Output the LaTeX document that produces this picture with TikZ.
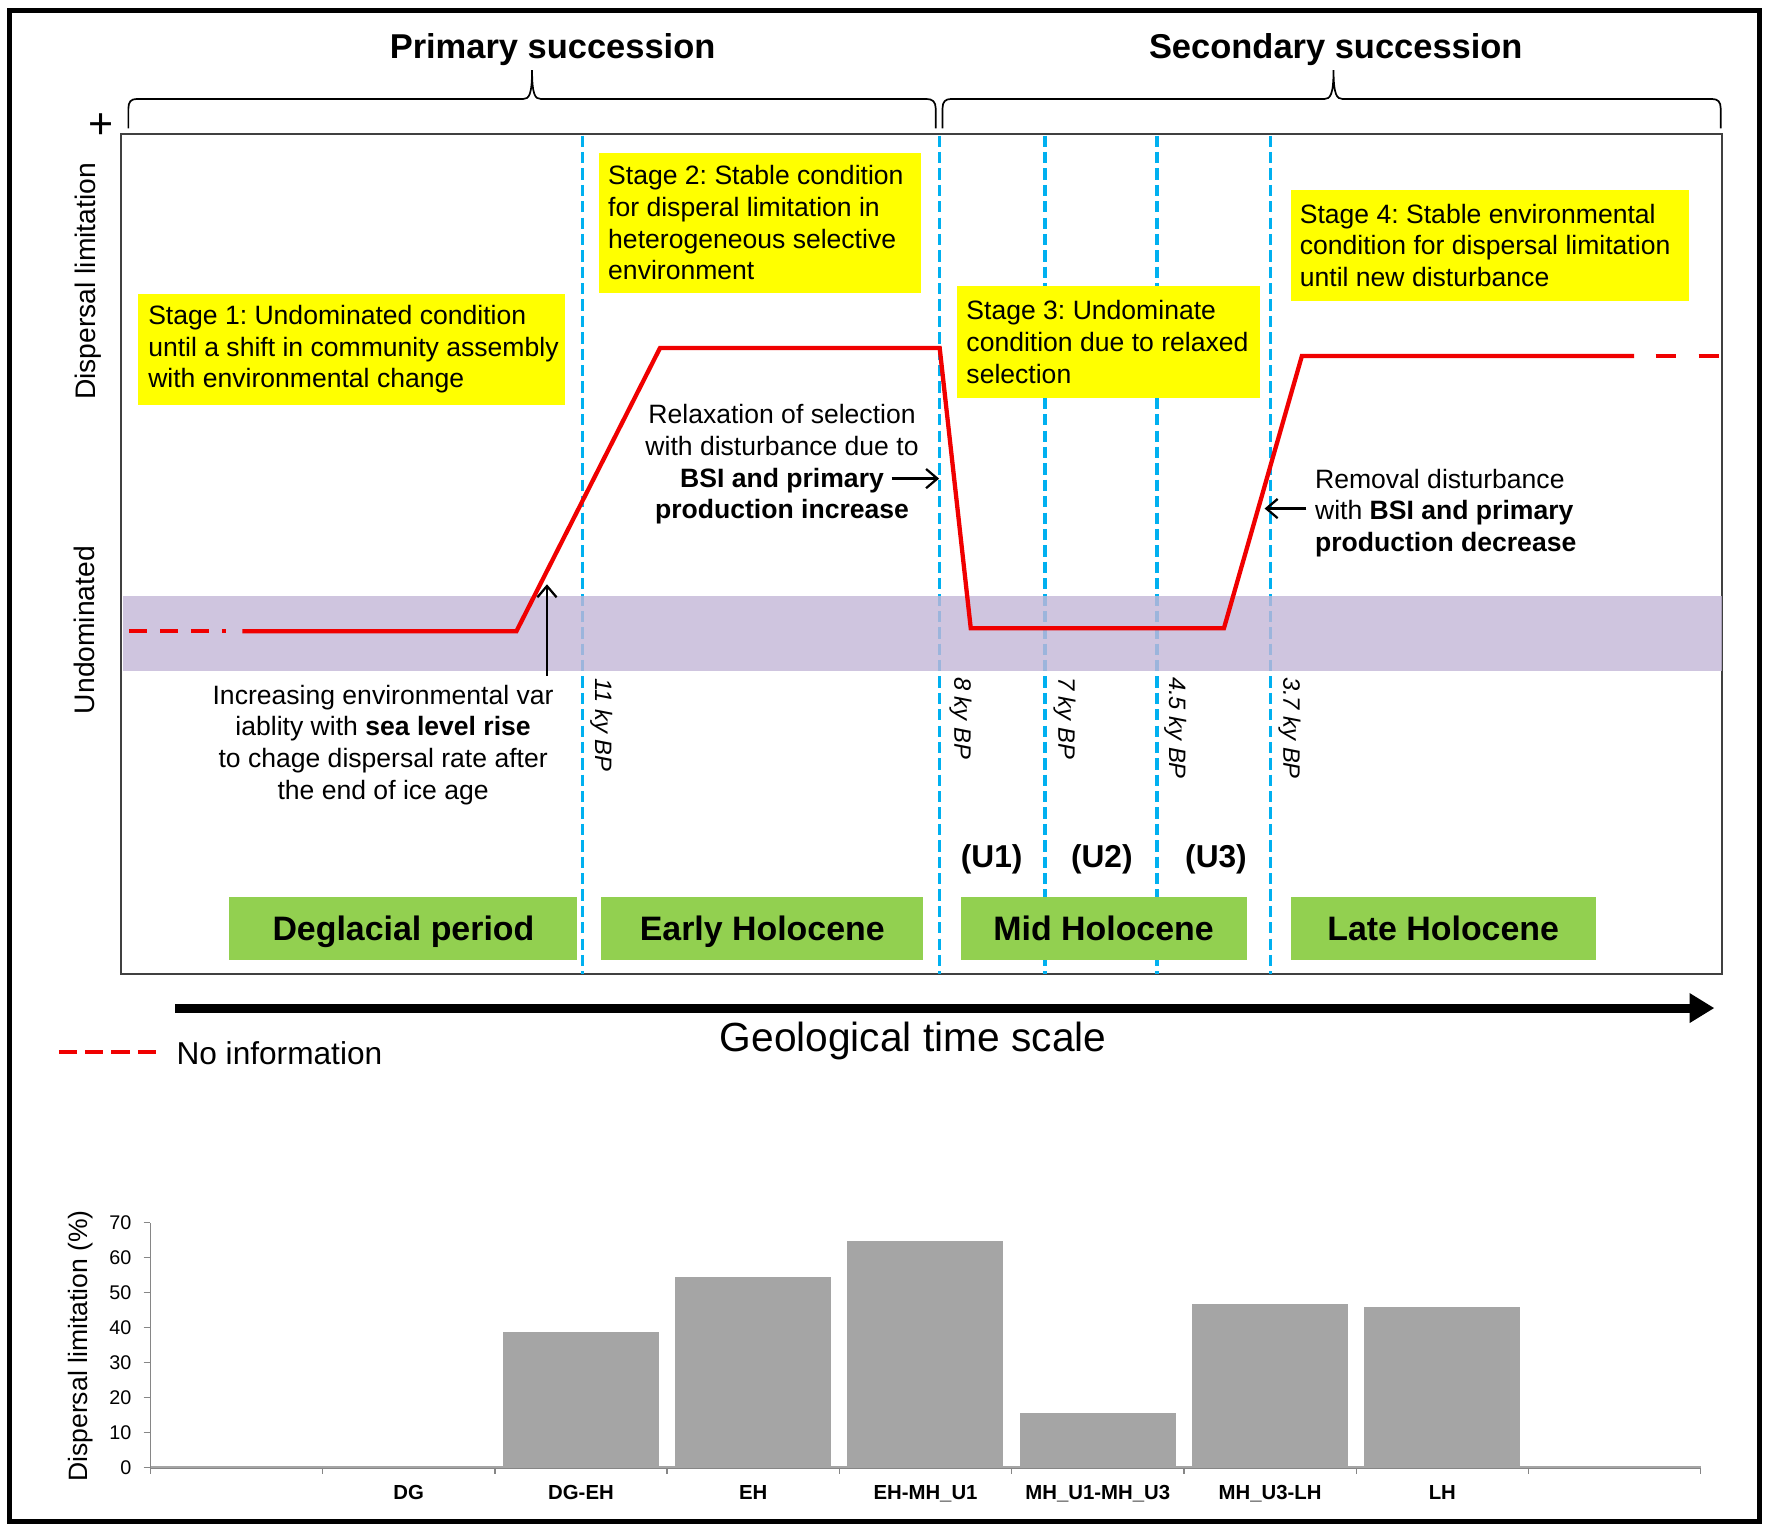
\documentclass[tikz,border=0pt]{standalone}
\usepackage{fontspec}
\setmainfont{Liberation Sans}
\usetikzlibrary{arrows.meta}
\definecolor{cyanline}{RGB}{0,176,240}
\definecolor{bandcol}{RGB}{195,183,215}
\definecolor{stageyellow}{RGB}{255,255,0}
\definecolor{periodgreen}{RGB}{146,208,80}
\definecolor{bargrey}{RGB}{165,165,165}
\definecolor{axisgrey}{RGB}{134,134,134}
\definecolor{curvered}{RGB}{240,0,0}
\newcommand{\fsz}[2]{\fontsize{#1}{#2}\selectfont}
\frenchspacing
\begin{document}
\begin{tikzpicture}[x=1pt,y=-1pt,
  stagebox/.style={fill=stageyellow, inner sep=0pt, anchor=north west},
  stagetext/.style={align=left, inner sep=0pt, anchor=west, font=\fsz{23.5}{28}},
  periodbox/.style={fill=periodgreen, inner sep=0pt, text height=21pt, text depth=0pt, font=\bfseries\fsz{30}{36}},
  kylabel/.style={rotate=-90, anchor=west, inner sep=0pt, font=\itshape\fsz{21}{25}},
  ulabel/.style={anchor=base, inner sep=0pt, font=\bfseries\fsz{28}{32}},
  titletext/.style={anchor=base, inner sep=0pt, font=\bfseries\fsz{30.5}{34}},
  axislabel/.style={rotate=90, anchor=base, inner sep=0pt, font=\fsz{25}{28}},
  annot/.style={inner sep=0pt, font=\fsz{23.5}{28}},
  vline/.style={draw=cyanline, line width=3pt, dash pattern=on 10pt off 4.5pt},
  redpath/.style={draw=curvered, line width=3.8pt},
  pointer/.style={-{Straight Barb[length=10pt,width=17pt]}, line width=2pt},
  bracepath/.style={draw=black, line width=1.5pt},
  framestyle/.style={draw=black!75, line width=1.8pt},
  chartbar/.style={fill=bargrey},
  axisline/.style={draw=axisgrey, line width=1.2pt},
  ylab/.style={anchor=east, inner sep=0pt, font=\fsz{17.5}{20}},
  xlab/.style={anchor=base, inner sep=0pt, font=\bfseries\fsz{18}{20}}
]
\useasboundingbox (0,0) rectangle (1568,1356);
\fill[white] (0,0) rectangle (1568,1356);

% outer border and plot frame
\draw[line width=4.5pt] (8.5,9) rectangle (1557,1346);
\draw[framestyle] (107,118.5) rectangle (1524,862);

% braces
\draw[bracepath] (113.6,113.5) -- (113.6,96) .. controls (113.6,90) and (116,87.6) .. (121,87.6) -- (463,87.6)
  .. controls (468,87.6) and (470.8,84) .. (470.8,62) .. controls (470.8,84) and (473.6,87.6) .. (478.6,87.6)
  -- (820,87.6) .. controls (825,87.6) and (828,90) .. (828,96) -- (828,113.5);
\draw[bracepath] (834,113.5) -- (834,96) .. controls (834,90) and (836.5,87.6) .. (841.5,87.6) -- (1172,87.6)
  .. controls (1177,87.6) and (1180,84) .. (1180,62) .. controls (1180,84) and (1183,87.6) .. (1188,87.6)
  -- (1515,87.6) .. controls (1520,87.6) and (1522.6,90) .. (1522.6,96) -- (1522.6,113.5);
\node[titletext] (primary) at (489,51.6) {Primary succession};
\node[titletext] (secondary) at (1182,51.6) {Secondary succession};
\node[inner sep=0pt, font=\fsz{38}{42}] (plus) at (89,112) {+};

% axis labels
\node[axislabel] (dl) at (84.5,249) {Dispersal limitation};
\node[axislabel] (ud) at (84,557.5) {Undominated};

% blue dashed boundaries
\foreach \xx in {515.5,831.5,924.7,1023.8,1124} {
  \draw[vline] (\xx,120) -- (\xx,862);
}

% purple band
\fill[bandcol, opacity=0.8] (109,527.4) rectangle (1523.5,593.8);

% stage boxes
\node[stagebox, minimum width=378pt, minimum height=98pt] (s1) at (122,260) {};
\node[stagetext] (t1) at ([xshift=9pt]s1.west) {Stage 1: Undominated condition\\until a shift in community assembly\\with environmental change};
\node[stagebox, minimum width=285pt, minimum height=124pt] (s2) at (530,135) {};
\node[stagetext] (t2) at ([xshift=8pt]s2.west) {Stage 2: Stable condition\\for disperal limitation in\\heterogeneous selective\\environment};
\node[stagebox, minimum width=268pt, minimum height=99pt] (s3) at (847,253) {};
\node[stagetext] (t3) at ([xshift=8pt]s3.west) {Stage 3: Undominate\\condition due to relaxed\\selection};
\node[stagebox, minimum width=352pt, minimum height=98pt] (s4) at (1142,168) {};
\node[stagetext] (t4) at ([xshift=8pt]s4.west) {Stage 4: Stable environmental\\condition for dispersal limitation\\until new disturbance};

% period boxes
\node[periodbox, minimum width=308pt, minimum height=56pt] (g1) at (357,821.5) {Deglacial period};
\node[periodbox, minimum width=285pt, minimum height=56pt] (g2) at (674.5,821.5) {Early Holocene};
\node[periodbox, minimum width=253pt, minimum height=56pt] (g3) at (976.5,821.5) {Mid Holocene};
\node[periodbox, minimum width=270pt, minimum height=56pt] (g4) at (1277,821.5) {Late Holocene};

% unit labels
\node[ulabel] (u1) at (877.5,768) {(U1)};
\node[ulabel] (u2) at (975,768) {(U2)};
\node[ulabel] (u3) at (1076,768) {(U3)};

% age labels
\node[kylabel] (k11) at (532,600) {11 ky BP};
\node[kylabel] (k8) at (850,599) {8 ky BP};
\node[kylabel] (k7) at (942,599) {7 ky BP};
\node[kylabel] (k45) at (1040,599) {4.5 ky BP};
\node[kylabel] (k37) at (1141,599) {3.7 ky BP};

% red curve
\draw[redpath, dash pattern=on 15.5pt off 11.8pt on 15.5pt off 11.8pt on 15.5pt off 11.8pt on 3.6pt off 60pt] (114.4,558.5) -- (212,558.5);
\draw[redpath, line join=miter] (214.4,558.5) -- (457,558.5) -- (584,308) -- (831.5,308) -- (859,556) -- (1083,556) -- (1152,315) -- (1446,315);
\draw[redpath, dash pattern=on 18pt off 20pt] (1465,315) -- (1522,315);

% annotations
\node[annot, align=center] (relax) at (692,411) {Relaxation of selection\\with disturbance due to\\\textbf{BSI and primary}\\\textbf{production increase}};
\node[annot, align=left, anchor=west] (removal) at (1163.5,454) {Removal disturbance\\with \textbf{BSI and primary}\\\textbf{production decrease}};
\node[annot, align=center] (incr) at (339,659) {Increasing environmental var\\iablity with \textbf{sea level rise}\\to chage dispersal rate after\\the end of ice age};

\coordinate (relaxfrom) at (789,423.5);
\coordinate (relaxto) at (831,423.5);
\draw[pointer] (relaxfrom) -- (relaxto);
\coordinate (remfrom) at (1156,450);
\coordinate (remto) at (1119,450);
\draw[pointer] (remfrom) -- (remto);
\coordinate (incfrom) at (484,598);
\coordinate (incto) at (484,517);
\draw[pointer] (incfrom) -- (incto);

% time arrow
\coordinate (tstart) at (155,892);
\coordinate (tend) at (1517,892);
\draw[line width=8pt, -{Triangle[length=22pt,width=25pt]}] (tstart) -- (tend);
\node[anchor=base, inner sep=0pt, font=\fsz{36}{40}] (gts) at (808,930.5) {Geological time scale};

% legend
\coordinate (lg1) at (52,931);
\coordinate (lg2) at (138,931);
\draw[redpath, dash pattern=on 16pt off 7.3pt] (lg1) -- (lg2);
\node[anchor=base west, inner sep=0pt, font=\fsz{28}{32}] (noinfo) at (156,941.5) {No information};

% bar chart
\foreach \i/\v in {2/38.7,3/54.5,4/64.7,5/15.7,6/46.7,7/45.8} {
  \fill[chartbar] ({133+\i*152.44+7},1298.7) rectangle ({133+\i*152.44+145},{1298.7-\v*3.096});
}
\draw[draw=bargrey, line width=2.5pt] (133,1298.2) -- (1505,1298.2);
\draw[axisline] (133,1082) -- (133,1299.3);
\draw[axisline] (133,1299.3) -- (1505,1299.3);
\foreach \v in {0,10,...,70} {
  \draw[axisline] (127,{1298.7-\v*3.096}) -- (133,{1298.7-\v*3.096});
  \node[ylab] (yl\v) at (116.5,{1298.7-\v*3.096}) {\v};
}
\foreach \i in {0,...,9} {
  \draw[axisline] ({133+\i*152.44},1299.3) -- ({133+\i*152.44},1304);
}
\foreach \i/\lab in {1/DG,2/DG-EH,3/EH,4/EH-MH\_U1,5/MH\_U1-MH\_U3,6/MH\_U3-LH,7/LH} {
  \node[xlab] (xl\i) at ({133+(\i+0.5)*152.44},1327) {\lab};
}
\node[rotate=90, inner sep=0pt, font=\fsz{23.5}{26}] (ytitle) at (71.7,1191) {Dispersal limitation (\%)};
\end{tikzpicture}
\end{document}
